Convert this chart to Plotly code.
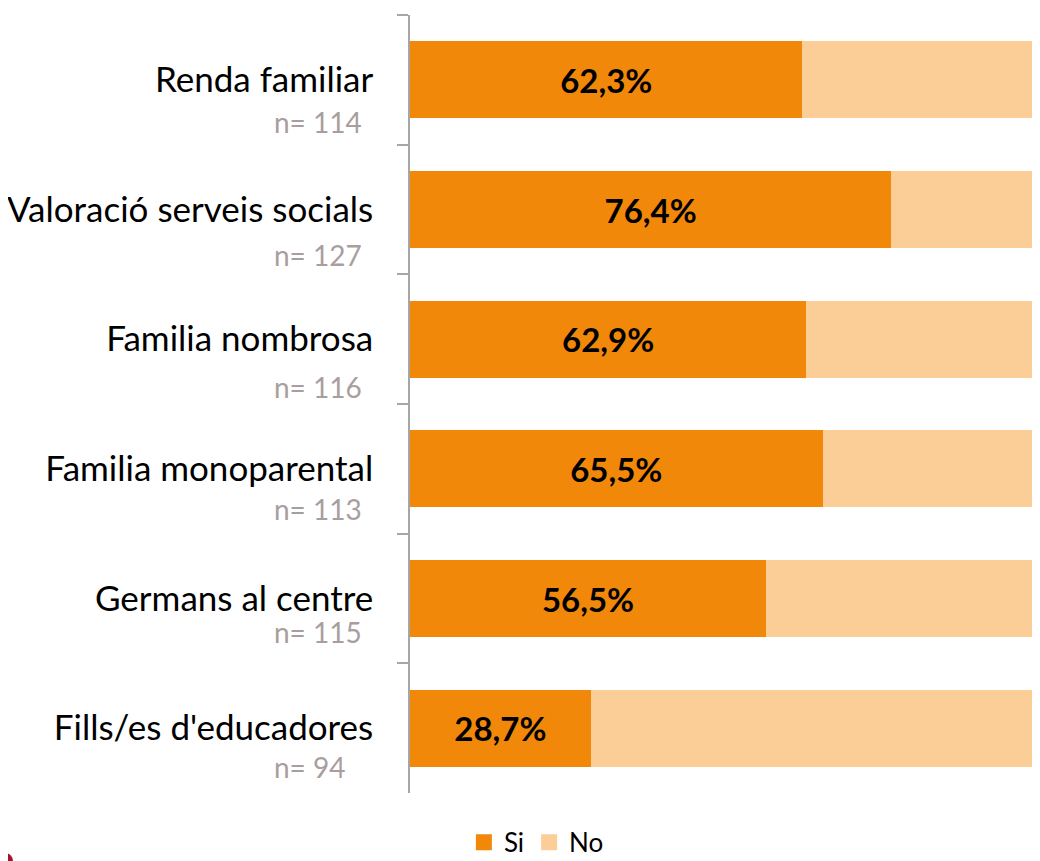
import plotly.graph_objects as go

categories = ["Renda familiar", "Valoració serveis socials", "Familia nombrosa",
              "Familia monoparental", "Germans al centre", "Fills/es d'educadores"]
si_values = [62.3, 76.4, 62.9, 65.5, 56.5, 28.7]
no_values = [round(100 - v, 1) for v in si_values]
n_values = [114, 127, 116, 113, 115, 94]

# vertical offset (px) of each "n=" note below its category centre
n_offsets = [42, 45, 48, 40, 33, 39]

SI_COLOR = "#F2880A"
NO_COLOR = "#FBCE97"
FONT = "Lato"

si_text = [f"{v:.1f}%".replace(".", ",") for v in si_values]

fig = go.Figure()
fig.add_trace(go.Bar(
    y=categories, x=si_values, orientation="h", name="Si",
    marker=dict(color=SI_COLOR, line=dict(width=0)),
    text=si_text, textposition="inside", insidetextanchor="middle",
    textangle=0, constraintext="none",
    textfont=dict(family=FONT, size=33, color="black", weight="bold"),
    showlegend=False,
))
fig.add_trace(go.Bar(
    y=categories, x=no_values, orientation="h", name="No",
    marker=dict(color=NO_COLOR, line=dict(width=0)),
    showlegend=False,
))
# legend entries
fig.add_trace(go.Scatter(x=[None], y=[None], mode="markers", name="Si",
                         marker=dict(symbol="square", size=18, color=SI_COLOR)))
fig.add_trace(go.Scatter(x=[None], y=[None], mode="markers", name="No",
                         marker=dict(symbol="square", size=18, color=NO_COLOR)))

for cat, n, off in zip(categories, n_values, n_offsets):
    fig.add_annotation(
        x=-0.219, xref="paper", xanchor="left",
        y=cat, yref="y", yshift=-off,
        text=f"n= {n}", showarrow=False,
        font=dict(family=FONT, size=28, color="#A89E9E"),
    )

# sliver of a logo at the bottom-left corner
fig.add_shape(type="circle", xref="paper", yref="paper",
              x0=-0.6556, x1=-0.6302, y0=-0.0977, y1=-0.0771,
              fillcolor="#A0162E", line=dict(width=0), layer="above")

fig.update_layout(
    width=1032, height=861,
    barmode="stack", bargap=0.406,
    plot_bgcolor="white", paper_bgcolor="white",
    margin=dict(l=402, r=0, t=7, b=76),
    font=dict(family=FONT, size=35, color="black"),
    xaxis=dict(range=[0, 100], visible=False, fixedrange=True, automargin=False),
    yaxis=dict(
        type="category", categoryorder="array", categoryarray=categories,
        autorange="reversed", automargin=False,
        showline=True, linecolor="#A6A6A6", linewidth=1.5,
        ticks="outside", tickson="boundaries", ticklen=11,
        tickcolor="#A6A6A6", tickwidth=1.5,
        tickfont=dict(family=FONT, size=35, color="black"),
        ticklabelstandoff=28,
        showgrid=False, zeroline=False,
    ),
    legend=dict(
        orientation="h", xref="container", yref="container",
        x=0.512, xanchor="center", y=0.031, yanchor="middle",
        font=dict(family=FONT, size=26, color="black"),
        itemwidth=30, traceorder="normal",
    ),
)

fig.write_html("out.html")
